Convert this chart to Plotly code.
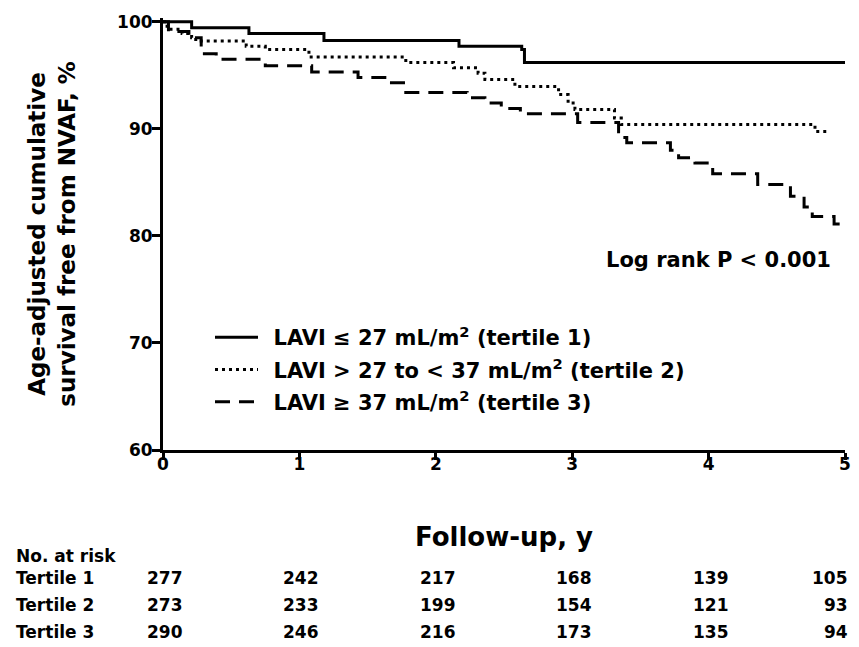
import plotly.graph_objects as go

# ---- data ----
t1_time = [0, 0.21, 0.63, 1.18, 2.17, 2.63, 2.65, 5.0]
t1_surv = [100, 99.45, 98.9, 98.25, 97.7, 97.4, 96.2, 96.2]

t2_time = [0, 0.03, 0.14, 0.21, 0.24, 0.61, 0.75, 1.07, 1.78, 2.13, 2.31, 2.36,
           2.58, 2.90, 2.97, 3.02, 3.31, 3.36, 4.78, 4.87]
t2_surv = [100, 99.3, 98.9, 98.5, 98.2, 97.7, 97.4, 96.7, 96.2, 95.7, 95.2, 94.6,
           93.95, 93.2, 92.4, 91.8, 91.0, 90.4, 89.75, 89.75]

t3_time = [0, 0.04, 0.19, 0.28, 0.39, 0.75, 1.09, 1.43, 1.65, 1.78, 2.23, 2.36,
           2.48, 2.62, 3.04, 3.34, 3.40, 3.72, 3.78, 3.90, 4.03, 4.36, 4.60, 4.70,
           4.76, 4.92, 5.0]
t3_surv = [100, 99.1, 98.5, 97.0, 96.5, 95.9, 95.3, 94.8, 94.3, 93.4, 92.9, 92.4,
           91.9, 91.4, 90.6, 89.2, 88.7, 88.0, 87.3, 86.8, 85.8, 84.8, 83.7, 82.7,
           81.8, 81.1, 81.1]

series_names = [
    "LAVI \u2264 27 mL/m<sup>2</sup> (tertile 1)",
    "LAVI > 27 to < 37 mL/m<sup>2</sup> (tertile 2)",
    "LAVI \u2265 37 mL/m<sup>2</sup> (tertile 3)",
]

x_ticks = [0, 1, 2, 3, 4, 5]
y_ticks = [60, 70, 80, 90, 100]

risk_labels = ["Tertile 1", "Tertile 2", "Tertile 3"]
risk_t1 = [277, 242, 217, 168, 139, 105]
risk_t2 = [273, 233, 199, 154, 121, 93]
risk_t3 = [290, 246, 216, 173, 135, 94]

FONT = "DejaVu Sans"
OFF = 8  # default page body margin in the browser

fig = go.Figure()
dashes = ["solid", "3px,4px", "15px,9px"]
for i, (tm, sv, nm, ds) in enumerate(zip([t1_time, t2_time, t3_time],
                                         [t1_surv, t2_surv, t3_surv], series_names, dashes)):
    fig.add_trace(go.Scatter(x=tm, y=sv, mode="lines", name="\u2002" + nm,
                             legendgroup="g%d" % i,
                             line=dict(color="black", width=3, shape="hv", dash=ds)))

W, H = 859 - 2 * OFF, 647 - OFF
ml, mt = 163 - OFF, 18 - OFF
mr = W - (845 - OFF)
mb = H - (450 - OFF)
pw = W - ml - mr
ph = H - mt - mb

def px(p):
    return (p - OFF - ml) / pw

def py(p):
    return 1 - (p - OFF - mt) / ph

def f(size):
    return dict(family=FONT, size=size, color="black", weight="bold")

annots = []
annots.append(dict(text="Log rank P < 0.001", xref="paper", yref="paper",
                   x=px(833), y=py(260), xanchor="right", yanchor="middle",
                   showarrow=False, font=f(21)))
annots.append(dict(text="No. at risk", xref="paper", yref="paper",
                   x=px(14), y=py(556), xanchor="left", yanchor="middle",
                   showarrow=False, font=f(17)))
row_y = [578, 605, 632]
for lab, vals, ry in zip(risk_labels, [risk_t1, risk_t2, risk_t3], row_y):
    annots.append(dict(text=lab, xref="paper", yref="paper",
                       x=px(14), y=py(ry), xanchor="left", yanchor="middle",
                       showarrow=False, font=f(17)))
    for xv, v in zip(x_ticks, vals):
        last = xv == x_ticks[-1]
        annots.append(dict(text=str(v), xref="x", yref="paper", x=xv, y=py(ry),
                           xanchor="right" if last else "center",
                           xshift=5 if last else 2, yanchor="middle", showarrow=False,
                           font=f(17)))

fig.update_layout(
    width=W, height=H,
    margin=dict(l=ml, r=mr, t=mt, b=mb, autoexpand=False),
    paper_bgcolor="white", plot_bgcolor="white",
    font=dict(family=FONT, color="black", weight="bold"),
    showlegend=True,
    legend=dict(x=px(210), y=py(317), xanchor="left", yanchor="top",
                bgcolor="rgba(0,0,0,0)", itemwidth=43, tracegroupgap=2,
                font=f(21)),
    annotations=annots,
    xaxis=dict(range=[0, 5], tickvals=x_ticks, showline=True, linewidth=3, linecolor="black",
               ticks="outside", ticklen=7, tickwidth=2.5, tickcolor="black",
               showgrid=False, zeroline=False, automargin=False, ticklabelstandoff=-10,
               tickfont=f(17),
               title=dict(text="Follow-up, y", standoff=55, font=f(26))),
    yaxis=dict(range=[60, 100.35], tickvals=y_ticks, showline=True, linewidth=3, linecolor="black",
               ticks="outside", ticklen=8, tickwidth=2.5, tickcolor="black",
               showgrid=False, zeroline=False, automargin=False, ticklabelstandoff=-4,
               tickfont=f(17),
               title=dict(text="Age-adjusted cumulative<br>survival free from NVAF, %", standoff=36,
                          font=f(23))),
)

fig.write_html("out.html")
